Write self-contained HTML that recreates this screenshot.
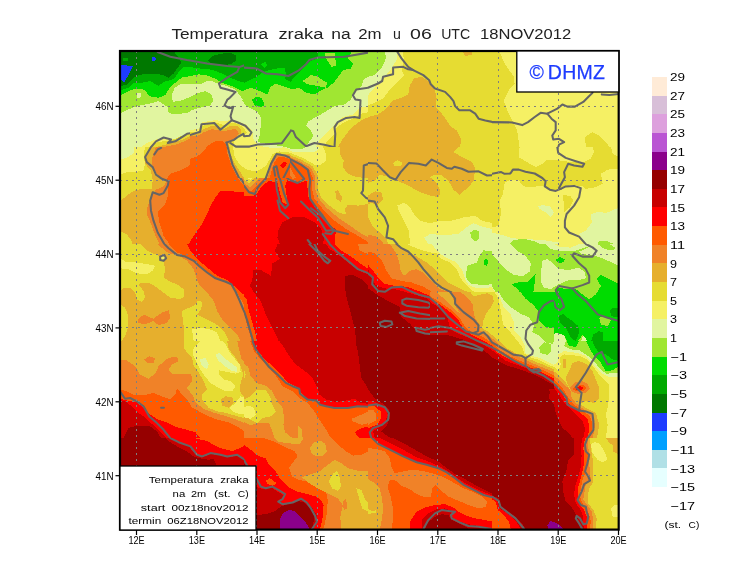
<!DOCTYPE html>
<html><head><meta charset="utf-8"><title>Temperatura zraka na 2m</title>
<style>html,body{margin:0;padding:0;background:#fff}body{width:740px;height:582px;overflow:hidden}</style></head>
<body>
<svg width="740" height="582" viewBox="0 0 740 582" style="display:block">
<rect width="740" height="582" fill="#fff"/>
<defs><clipPath id="mapclip"><rect x="120" y="51" width="498.5" height="478.5"/></clipPath>
<clipPath id="cA1"><rect x="120" y="50" width="124" height="97"/></clipPath>
<clipPath id="cA2"><rect x="244" y="50" width="124" height="97"/></clipPath>
<clipPath id="cA3"><rect x="368" y="50" width="124" height="97"/></clipPath>
<clipPath id="cA4"><rect x="492" y="50" width="128" height="97"/></clipPath>
<clipPath id="cB1"><rect x="120" y="147" width="124" height="97"/></clipPath>
<clipPath id="cB2"><rect x="244" y="147" width="124" height="97"/></clipPath>
<clipPath id="cB3"><rect x="368" y="147" width="124" height="97"/></clipPath>
<clipPath id="cB4"><rect x="492" y="147" width="128" height="97"/></clipPath>
<clipPath id="cC1"><rect x="120" y="244" width="124" height="97"/></clipPath>
<clipPath id="cC2"><rect x="244" y="244" width="124" height="97"/></clipPath>
<clipPath id="cC3"><rect x="368" y="244" width="124" height="97"/></clipPath>
<clipPath id="cC4"><rect x="492" y="244" width="128" height="97"/></clipPath>
<clipPath id="cD1"><rect x="120" y="341" width="124" height="97"/></clipPath>
<clipPath id="cD2"><rect x="244" y="341" width="124" height="97"/></clipPath>
<clipPath id="cD3"><rect x="368" y="341" width="124" height="97"/></clipPath>
<clipPath id="cD4"><rect x="492" y="341" width="128" height="97"/></clipPath>
<clipPath id="cE1"><rect x="120" y="438" width="124" height="97"/></clipPath>
<clipPath id="cE2"><rect x="244" y="438" width="124" height="97"/></clipPath>
<clipPath id="cE3"><rect x="368" y="438" width="124" height="97"/></clipPath>
<clipPath id="cE4"><rect x="492" y="438" width="128" height="97"/></clipPath>
<clipPath id="cP1"><rect x="190" y="100" width="100" height="78"/></clipPath>
<clipPath id="cP2"><rect x="430" y="292" width="124" height="97"/></clipPath>
</defs>
<g clip-path="url(#mapclip)" shape-rendering="crispEdges">
<rect x="120" y="51" width="499" height="479" fill="#e6dc32"/>
<g clip-path="url(#cA1)">
<rect x="120" y="50" width="128" height="97" fill="#e1f5a0"/>
<polygon points="120.0,50.0 120.0,112.8 121.3,112.8 128.4,109.5 136.8,106.1 150.2,103.6 158.5,101.1 167.8,107.0 168.6,112.8 175.3,114.5 187.0,112.8 198.8,109.5 208.8,105.3 213.8,101.1 211.3,94.4 205.5,91.1 198.8,92.7 190.4,96.9 182.0,100.3 172.8,101.9 171.9,95.2 174.5,87.7 182.0,83.5 190.4,84.3 200.4,84.3 205.5,81.5 211.3,80.7 218.9,84.0 227.2,86.0 235.6,89.9 240.6,96.1 244.8,102.8 244.8,50.0" fill="#a0e632"/>
<polygon points="136.8,92.7 140.9,93.2 140.4,97.8 137.6,98.6" fill="#e1f5a0"/>
<polygon points="120.0,50.0 120.0,95.2 121.3,95.2 126.7,91.9 133.4,89.4 140.1,88.5 145.1,90.2 149.3,96.1 158.5,97.8 165.2,95.2 168.6,89.4 175.3,82.7 182.0,77.6 190.4,76.0 198.8,74.3 207.1,75.5 215.5,78.8 222.2,83.0 232.3,86.4 239.0,89.7 244.8,91.9 244.8,50.0" fill="#00dc00"/>
<polygon points="120.0,50.0 120.0,90.2 121.3,90.2 128.4,87.7 133.4,83.5 141.8,82.7 150.2,81.0 158.5,86.0 163.6,81.8 170.3,80.2 175.3,77.6 178.6,71.8 183.7,66.8 188.7,66.8 198.8,68.4 208.8,69.3 215.5,70.9 223.9,74.3 232.3,78.5 240.6,81.8 244.8,82.7 244.8,50.0" fill="#00aa00"/>
<polygon points="120.0,50.0 120.0,86.0 121.3,86.0 127.5,84.3 132.6,78.5 138.4,75.1 146.8,73.5 156.0,73.5 162.7,75.1 168.6,77.6 173.6,73.5 177.8,67.6 181.2,62.6 178.6,57.5 175.3,54.2 173.6,50.0" fill="#007800"/>
<polygon points="208.0,60.9 213.0,55.9 220.5,53.7 230.6,53.0 236.5,55.9 235.6,60.9 230.6,64.2 220.5,65.4 213.8,64.7" fill="#007800"/>
<polygon points="121.3,65.1 133.1,65.9 130.1,71.8 124.2,82.7 121.3,80.2" fill="#1e3cff"/>
<polygon points="151.5,57.5 155.2,57.0 156.0,60.1 152.7,61.4" fill="#1e3cff"/>
<polygon points="122.5,57.5 127.5,57.5 127.5,60.9 122.5,60.9" fill="#00aa00"/>
<polygon points="140.9,147.2 146.8,143.0 158.5,138.5 175.3,139.6 187.0,133.8 193.7,130.4 198.8,123.7 203.8,121.2 213.8,120.4 223.9,120.4 233.9,122.1 244.8,123.7 244.8,147.2" fill="#f5f064"/>
<polygon points="148.5,147.2 158.5,141.8 170.3,140.7 178.6,137.3 190.4,132.3 198.8,128.1 203.8,124.2 213.8,123.2 220.5,125.4 228.9,124.6 237.3,123.7 244.8,125.4 244.8,147.2" fill="#e6dc32"/>
<polygon points="156.0,147.2 170.3,143.2 182.0,139.8 190.4,135.6 198.8,130.6 205.5,126.4 213.8,127.2 222.2,128.8 230.6,125.4 244.8,127.1 244.8,147.2" fill="#e6af2d"/>
<polygon points="161.9,147.2 175.3,144.8 183.7,141.5 190.4,138.1 198.8,133.1 205.5,128.9 213.8,129.8 222.2,130.6 237.3,128.9 244.8,130.4 244.8,147.2" fill="#f08228"/>
<polygon points="211.3,147.2 216.3,142.2 220.5,141.3 227.2,143.8 229.8,147.2" fill="#ff5a00"/>
<g stroke="#656565" stroke-width="2.05" fill="none" stroke-linejoin="round" stroke-linecap="round" shape-rendering="auto">
<polyline points="157.7,52.0 170.3,56.7 187.0,60.1 207.1,63.4 227.2,65.9 239.3,67.1 244.8,65.1"/>
<polyline points="239.3,67.1 237.3,71.8 227.2,77.6 218.9,83.5 220.5,87.7 227.2,89.4 235.6,91.9 229.8,97.8 227.2,99.9 225.6,103.6 227.2,107.0 233.9,107.0 231.4,115.3 232.3,120.4 237.3,122.1 244.8,124.6"/>
<polyline points="151.0,147.2 156.0,141.3 163.6,137.5 171.1,139.6 167.8,143.0 175.3,141.3 187.0,133.8 198.8,132.1 202.1,123.7 213.8,122.1 220.5,128.8 228.9,122.1 237.3,122.1"/>
<polyline points="237.3,122.1 242.3,128.8 244.8,130.4"/>
</g>
</g>
<g clip-path="url(#cA2)">
<rect x="244" y="50" width="128" height="97" fill="#a0e632"/>
<polygon points="244.0,50.0 244.0,90.2 250.7,87.7 257.4,90.2 267.5,94.4 270.0,87.7 275.0,83.5 282.5,86.0 292.6,89.4 299.3,87.7 306.0,92.7 314.4,94.4 322.8,89.4 327.8,87.7 334.5,81.8 339.5,75.1 342.9,70.1 351.2,68.4 352.9,63.4 347.9,58.4 351.2,53.4 351.2,50.0" fill="#00dc00"/>
<polygon points="302.6,81.0 311.0,75.1 317.7,76.8 326.9,82.7 326.1,87.7 317.7,86.0 307.7,84.3" fill="#a0e632"/>
<polygon points="324.4,52.5 334.5,53.0 336.5,65.9 331.5,66.8 326.9,60.1" fill="#a0e632"/>
<polygon points="251.5,100.3 255.7,96.9 261.6,97.8 264.9,105.3 260.8,107.8 253.2,106.1" fill="#00dc00"/>
<polygon points="244.0,50.0 244.0,83.5 249.0,80.2 255.7,77.6 262.4,72.6 269.1,70.1 277.5,68.4 285.1,68.4 285.9,75.1 285.1,79.3 290.9,81.8 294.3,76.8 301.0,70.1 306.0,65.1 311.0,60.9 317.7,58.4 318.6,50.0" fill="#00aa00"/>
<polygon points="260.8,64.2 264.9,61.7 267.8,65.1 264.9,68.1" fill="#00dc00"/>
<polygon points="244.0,103.6 248.2,105.3 254.1,108.6 259.1,117.0 260.8,128.8 259.9,143.8 259.1,147.2 244.0,147.2" fill="#e1f5a0"/>
<polygon points="244.0,127.9 250.7,132.1 252.4,138.8 254.1,147.2 244.0,147.2" fill="#f5f064"/>
<polygon points="306.0,125.4 308.5,121.2 317.7,116.2 327.8,110.3 334.5,106.1 344.5,104.5 351.2,99.4 353.8,91.9 361.3,86.9 363.8,79.3 368.8,76.8 368.8,147.2 306.0,147.2 309.3,141.3 313.5,136.3 311.0,130.4" fill="#e1f5a0"/>
<polygon points="316.1,147.2 318.6,141.3 326.1,133.8 331.1,128.8 335.3,123.7 342.9,117.0 352.9,114.5 359.6,107.8 368.8,106.1 368.8,147.2" fill="#f5f064"/>
<polygon points="322.8,147.2 327.8,140.5 334.5,133.8 337.0,127.1 344.5,122.1 352.9,118.7 361.3,113.7 368.8,112.0 368.8,147.2" fill="#e6dc32"/>
<polygon points="337.8,147.2 342.9,138.8 347.9,132.1 354.6,125.4 361.3,120.4 368.8,117.0 368.8,147.2" fill="#e6af2d"/>
<g stroke="#656565" stroke-width="2.05" fill="none" stroke-linejoin="round" stroke-linecap="round" shape-rendering="auto">
<polyline points="244.0,67.6 256.6,68.4 265.8,73.5 277.5,74.3 288.4,76.0 299.3,70.1 306.0,64.2 309.3,60.1 317.7,57.5 344.5,56.7 368.8,52.5"/>
<polyline points="244.0,146.3 260.8,145.5 280.9,143.0 287.6,135.5 290.9,130.4 293.4,131.3 295.9,137.1 306.0,146.3 314.4,143.0 324.4,144.7 334.5,147.2"/>
<polyline points="334.5,147.2 335.3,133.8 334.5,127.1 337.8,122.1 346.2,117.9 354.6,117.0 359.6,117.9 360.5,100.3 355.4,99.4 352.9,95.2 356.3,89.4 368.8,87.7"/>
<polyline points="244.0,123.7 249.0,128.8 250.7,133.8 247.4,137.1 244.0,136.3"/>
</g>
</g>
<g clip-path="url(#cA3)">
<rect x="368" y="50" width="128" height="97" fill="#e6dc32"/>
<polygon points="368.0,50.0 402.3,50.0 404.0,60.1 401.5,70.1 404.0,75.1 399.8,80.2 393.1,86.0 388.1,91.9 383.1,98.6 374.7,102.8 368.0,105.3" fill="#f5f064"/>
<polygon points="368.0,50.0 397.3,50.0 396.5,60.1 391.5,68.4 384.8,76.8 378.1,83.5 368.0,95.2" fill="#e1f5a0"/>
<polygon points="368.0,50.0 383.9,50.0 386.4,57.5 381.4,68.4 374.7,75.1 368.0,76.8" fill="#a0e632"/>
<polygon points="368.0,117.0 378.1,114.5 386.4,108.6 393.1,100.3 401.5,97.8 408.2,94.4 409.9,85.2 414.1,78.5 421.6,76.8 428.3,81.0 435.0,90.2 436.7,98.6 435.9,107.0 441.7,113.7 446.8,120.4 450.1,126.2 456.8,130.4 461.0,138.8 460.2,147.2 368.0,147.2" fill="#e6af2d"/>
<polygon points="461.8,50.0 472.7,50.0 471.9,55.0 465.2,55.9" fill="#e6af2d"/>
<g stroke="#656565" stroke-width="2.05" fill="none" stroke-linejoin="round" stroke-linecap="round" shape-rendering="auto">
<polyline points="397.3,51.7 401.5,58.4 408.2,66.8 413.2,70.1 423.3,75.1 429.2,80.2 430.8,84.3 435.0,88.5 445.1,91.9 450.1,96.9 453.5,101.1 455.1,106.1 459.3,110.3 470.2,110.3 475.2,113.7 478.6,118.7 485.3,120.4 492.8,122.1"/>
<polyline points="368.0,87.7 378.1,83.5 382.2,81.0 383.1,76.8 393.1,74.3 393.1,67.6 403.2,66.8 408.2,69.3 413.2,70.1"/>
</g>
</g>
<g clip-path="url(#cA4)">
<rect x="492" y="50" width="128" height="97" fill="#f5f064"/>
<polygon points="492.0,50.0 498.7,50.0 504.6,63.4 513.8,76.8 514.6,83.5 508.8,90.2 503.7,100.3 507.9,112.0 512.9,122.1 517.1,130.4 519.6,147.2 492.0,147.2" fill="#e6dc32"/>
<polygon points="585.0,137.1 592.5,132.1 599.2,135.5 607.6,143.8 609.3,147.2 585.8,147.2" fill="#e6dc32"/>
<g stroke="#656565" stroke-width="2.05" fill="none" stroke-linejoin="round" stroke-linecap="round" shape-rendering="auto">
<polyline points="492.0,122.1 512.1,122.4 522.2,125.1 528.0,122.1 534.7,117.0 540.6,112.8 547.3,113.7 557.3,108.6 562.4,104.5 567.4,106.6 574.9,106.6 583.3,101.9 589.2,96.1 592.5,92.7"/>
<polyline points="601.8,94.4 609.3,94.9 619.3,93.9"/>
<polyline points="547.3,113.7 551.5,118.7 555.7,122.1 555.7,130.4 552.3,135.5 553.2,139.6 559.0,138.8 564.1,142.2 559.0,144.7 558.2,147.2"/>
</g>
</g>
<g clip-path="url(#cB1)">
<rect x="120" y="147" width="128" height="97" fill="#ff5a00"/>
<polygon points="244.8,192.2 220.5,190.6 215.5,197.3 210.5,205.6 207.1,214.0 202.1,224.1 193.7,235.8 188.7,244.2 244.8,244.2" fill="#ff0000"/>
<polygon points="120.0,147.0 208.8,147.0 203.8,150.4 198.8,156.2 193.7,161.2 187.0,167.1 180.3,170.5 170.3,173.8 166.9,178.8 168.6,183.9 167.8,195.6 165.2,204.0 157.7,211.5 159.4,222.4 163.6,235.8 169.4,244.2 120.0,244.2" fill="#f08228"/>
<polygon points="120.0,147.0 156.0,147.0 152.7,155.4 151.8,163.8 156.0,172.1 161.9,178.0 166.9,180.5 163.6,186.4 156.0,189.7 152.7,193.9 151.8,197.3 147.6,205.6 146.8,214.0 151.8,225.8 156.0,237.5 159.4,244.2 120.0,244.2" fill="#e6af2d"/>
<polygon points="120.0,147.0 151.0,147.0 146.8,153.7 145.1,163.8 151.0,170.5 152.7,180.5 151.8,188.9 141.8,188.9 133.4,190.9 125.9,196.4 120.0,201.5" fill="#e6dc32"/>
<polygon points="120.0,230.8 126.7,234.1 131.7,240.8 132.6,244.2 120.0,244.2" fill="#e6dc32"/>
<polygon points="120.0,147.0 145.1,147.0 143.5,155.4 145.1,163.8 143.5,170.5 135.1,172.1 126.7,172.1 120.0,174.6" fill="#f5f064"/>
<polygon points="120.0,147.0 134.2,147.0 133.4,153.7 126.7,157.9 120.0,159.6" fill="#e1f5a0"/>
<polygon points="224.7,147.0 227.2,158.7 230.6,168.8 237.3,178.0 244.8,186.4 244.8,147.0" fill="#f08228"/>
<polygon points="228.9,147.0 231.4,158.7 234.8,167.1 240.6,176.3 244.8,180.5 244.8,147.0" fill="#e6af2d"/>
<polygon points="233.1,147.0 235.6,157.1 239.0,165.4 244.8,173.8 244.8,147.0" fill="#e6dc32"/>
<polygon points="237.3,147.0 239.0,153.7 244.8,163.8 244.8,147.0" fill="#f5f064"/>
<g stroke="#656565" stroke-width="2.05" fill="none" stroke-linejoin="round" stroke-linecap="round" shape-rendering="auto">
<polyline points="151.0,147.0 145.1,157.1 146.8,162.1 152.7,167.1 156.0,174.6 161.9,178.8 168.6,181.3 167.8,185.5 163.6,193.1 159.4,194.8 152.7,192.2 150.2,200.6 151.0,210.7 153.5,220.7 157.7,232.5 164.4,244.2"/>
<polyline points="154.3,154.5 157.7,149.5 161.1,147.8"/>
<polyline points="227.2,147.0 230.6,158.7 233.9,167.9 239.8,177.2 244.8,184.7"/>
</g>
</g>
<g clip-path="url(#cB2)">
<rect x="244" y="147" width="128" height="97" fill="#ff0000"/>
<polygon points="244.0,195.6 252.4,196.4 257.4,193.1 261.6,186.4 269.1,180.5 277.5,183.0 282.5,202.3 287.9,204.8 285.1,185.5 287.6,179.7 299.3,183.0 306.8,180.5 308.5,197.3 316.1,209.0 327.8,222.4 336.2,229.9 335.3,235.8 335.3,244.2 368.8,244.2 368.8,147.0 244.0,147.0" fill="#ff5a00"/>
<polygon points="244.0,186.4 250.7,191.4 255.7,187.2 260.8,181.3 266.6,176.3 271.6,165.4 275.0,157.1 280.9,155.4 289.2,158.7 299.3,163.8 309.3,169.6 312.7,177.2 311.9,188.9 314.4,198.9 322.8,209.0 334.5,220.7 346.2,229.1 357.9,235.8 368.8,242.5 368.8,147.0 244.0,147.0" fill="#f08228"/>
<polygon points="290.1,167.1 295.9,178.0 292.6,178.8 289.2,173.8" fill="#f08228"/>
<polygon points="244.0,183.0 249.9,187.2 254.9,183.0 259.9,177.2 265.8,172.1 270.0,162.1 273.3,155.4 280.0,153.4 290.1,157.1 301.0,162.1 311.0,167.9 315.2,176.3 315.2,188.9 317.7,197.3 326.1,207.3 337.8,217.4 347.9,224.1 359.6,232.5 368.8,237.5 368.8,147.0 244.0,147.0" fill="#e6af2d"/>
<polygon points="244.0,179.7 249.0,183.0 254.1,178.8 259.1,173.8 264.1,168.8 268.3,160.4 271.6,154.0 280.0,151.7 290.9,155.4 302.6,160.4 312.7,166.3 317.7,175.5 317.7,188.9 321.1,197.3 329.5,205.6 339.5,213.2 346.2,214.0 344.5,209.8 347.9,204.8 357.9,205.6 368.8,204.0 368.8,147.0 244.0,147.0" fill="#e6dc32"/>
<polygon points="244.0,176.3 250.7,179.7 256.6,174.6 260.8,168.8 264.9,160.4 269.1,152.9 280.0,149.5 292.6,153.7 304.3,158.7 314.4,164.6 320.2,165.4 326.1,160.4 326.1,153.7 322.8,147.0 244.0,147.0" fill="#f5f064"/>
<polygon points="269.1,147.0 282.5,150.4 299.3,152.4 314.4,152.0 319.4,148.7 319.4,147.0" fill="#e1f5a0"/>
<polygon points="282.5,147.0 292.6,149.0 302.0,149.0 305.7,147.0" fill="#a0e632"/>
<polygon points="340.3,147.0 339.5,153.7 343.7,160.4 342.9,167.1 347.9,173.8 356.3,177.2 368.8,178.0 368.8,147.0" fill="#e6af2d"/>
<polygon points="335.3,191.4 337.8,189.7 342.0,197.3 341.2,202.3 336.2,198.9" fill="#e6af2d"/>
<polygon points="278.3,230.8 282.5,222.4 292.6,217.4 304.3,217.4 314.4,222.4 321.1,229.1 324.4,237.5 322.8,244.2 280.0,244.2 277.5,237.5" fill="#c80000"/>
<g stroke="#656565" stroke-width="2.05" fill="none" stroke-linejoin="round" stroke-linecap="round" shape-rendering="auto">
<polyline points="244.0,185.5 249.0,192.2 254.9,193.9 257.4,188.1 260.8,183.9 265.8,178.8 267.5,172.1 271.6,163.8 274.2,155.4 277.5,153.7 284.2,156.2 292.6,160.4 301.0,164.6 307.7,169.6 310.2,180.5 309.3,188.9 310.2,198.9 316.1,207.3 322.8,215.7 329.5,225.8 334.5,230.8 347.9,234.1"/>
<polyline points="274.2,167.1 277.5,167.9 280.0,178.8 284.2,193.9 288.4,204.8 285.1,208.2 280.0,202.3 276.7,188.9 275.8,176.3 273.3,171.3 274.2,167.1"/>
<polyline points="290.1,161.2 297.6,170.5 304.3,178.8 297.6,183.0 289.2,179.7 282.5,173.8 286.7,165.4 290.1,161.2"/>
<polyline points="277.5,200.6 280.0,210.7 288.4,218.2"/>
<polyline points="301.0,201.5 309.3,209.8 317.7,217.4 326.1,230.8 334.5,229.9 331.1,234.1 325.3,233.3"/>
<polyline points="311.0,208.2 321.1,215.7 331.1,227.4"/>
<polyline points="368.8,163.8 363.8,165.4 363.0,190.6 361.3,193.1 366.3,198.1 368.8,198.9"/>
<polyline points="307.7,240.0 311.0,244.2"/>
<polyline points="322.8,234.1 329.5,243.3"/>
</g>
</g>
<g clip-path="url(#cB3)">
<rect x="368" y="147" width="128" height="97" fill="#e6dc32"/>
<polygon points="368.0,147.0 458.5,147.0 453.5,152.0 461.8,157.1 471.9,162.1 475.2,168.8 473.6,180.5 468.5,187.2 459.3,194.8 453.5,189.7 448.4,180.5 441.7,175.5 435.0,174.6 430.0,177.2 436.7,183.0 440.1,190.6 439.2,197.3 430.0,195.6 418.3,191.4 408.2,185.5 396.5,180.5 386.4,176.3 379.7,174.6 374.7,180.5 368.0,183.0" fill="#e6af2d"/>
<polygon points="393.1,162.9 397.3,160.1 401.5,162.1 401.5,165.4 394.8,166.3" fill="#e6dc32"/>
<polygon points="368.0,195.6 374.7,191.4 381.4,192.2 383.1,198.9 378.1,204.8 371.4,203.1 368.0,204.0" fill="#e6af2d"/>
<polygon points="368.0,217.4 372.2,225.8 379.7,232.5 386.4,238.3 388.1,244.2 368.0,244.2" fill="#e6af2d"/>
<polygon points="368.0,235.0 374.7,235.8 381.4,240.8 383.9,244.2 368.0,244.2" fill="#f08228"/>
<polygon points="397.3,205.6 404.0,202.3 409.9,207.3 414.9,215.7 419.9,220.7 430.0,223.2 440.1,220.7 451.8,220.7 463.5,217.4 475.2,215.7 481.9,220.7 492.8,223.2 492.8,244.2 409.9,244.2 409.1,230.8 403.2,219.1 399.0,211.5" fill="#f5f064"/>
<polygon points="424.1,237.5 430.0,234.1 443.4,235.0 458.5,234.1 466.0,227.4 473.6,223.2 481.9,226.6 492.8,229.1 492.8,244.2 428.3,244.2" fill="#e1f5a0"/>
<polygon points="470.2,232.5 474.4,229.9 478.6,230.8 478.6,239.2 475.2,241.7 471.0,237.5" fill="#a0e632"/>
<g stroke="#656565" stroke-width="2.05" fill="none" stroke-linejoin="round" stroke-linecap="round" shape-rendering="auto">
<polyline points="368.0,162.9 376.4,163.4 383.1,170.5 389.8,177.2 395.6,179.7 400.7,172.1 409.1,162.9 418.3,163.8 425.8,165.4 431.7,159.6 438.4,162.9 446.8,167.9 451.8,168.8 454.3,166.8 461.8,168.8 468.5,171.8 478.6,171.3 487.0,175.5 492.8,175.2"/>
<polyline points="368.0,200.6 374.7,201.5 378.1,209.0 384.8,217.4 388.1,225.8 386.4,237.5 393.1,239.2 397.3,244.2"/>
</g>
</g>
<g clip-path="url(#cB4)">
<rect x="492" y="147" width="128" height="97" fill="#f5f064"/>
<polygon points="492.0,147.0 519.6,147.0 518.8,157.1 525.5,161.2 535.6,167.1 542.3,163.8 547.3,159.6 559.0,160.4 570.8,162.1 582.5,162.9 590.9,158.7 594.2,152.0 592.5,147.0 611.0,147.0 612.6,153.7 619.3,157.1 619.3,168.8 607.6,169.6 600.9,173.8 602.6,183.9 595.9,187.2 585.8,188.9 582.5,186.4 572.4,184.7 562.4,187.2 555.7,191.4 547.3,188.9 542.3,185.5 532.2,187.2 523.8,186.4 518.8,180.5 510.4,179.7 504.6,183.0 502.9,193.9 499.5,200.6 501.2,212.3 498.7,225.8 492.0,227.4" fill="#e6dc32"/>
<polygon points="563.2,194.8 570.8,196.4 573.3,200.6 569.9,207.3 564.1,212.3" fill="#e6dc32"/>
<polygon points="590.9,214.0 599.2,211.5 605.9,213.2 619.3,207.3 619.3,244.2 585.8,244.2 579.1,234.1 585.8,230.8 591.7,222.4" fill="#e1f5a0"/>
<polygon points="492.0,232.5 502.1,235.0 512.1,238.3 542.3,240.0 559.0,242.5 559.0,244.2 492.0,244.2" fill="#e1f5a0"/>
<polygon points="538.1,206.5 542.3,204.8 549.8,206.5 554.0,212.3 550.6,217.4 545.6,212.3 539.8,209.0" fill="#e1f5a0"/>
<polygon points="509.6,244.2 513.8,240.0 523.8,238.8 535.6,241.7 540.6,244.2" fill="#a0e632"/>
<polygon points="597.6,244.2 599.2,241.2 605.9,240.8 612.6,243.3 614.3,244.2" fill="#a0e632"/>
<g stroke="#656565" stroke-width="2.05" fill="none" stroke-linejoin="round" stroke-linecap="round" shape-rendering="auto">
<polyline points="492.0,173.8 501.2,172.1 504.6,173.8 510.4,173.5 512.9,169.6 518.8,169.6 525.5,171.8 534.7,173.5 542.3,178.0 545.6,181.3 544.8,186.4 549.8,189.7 555.7,190.9 560.7,188.9"/>
<polyline points="559.0,188.1 564.9,177.2 564.1,172.1 568.2,163.8 574.1,165.4 582.5,166.8 584.2,163.8 575.8,161.2 565.7,157.9 558.2,152.9 557.3,147.0"/>
<polyline points="560.7,188.9 565.7,186.4 574.1,185.9 580.8,188.1 579.1,197.3 574.1,205.6 566.6,214.0 564.9,220.7 564.9,227.4 569.1,232.5 579.1,236.6 585.8,244.2"/>
</g>
</g>
<g clip-path="url(#cC1)">
<rect x="120" y="244" width="128" height="97" fill="#e6af2d"/>
<polygon points="156.9,244.0 168.6,253.2 178.6,255.7 187.0,260.8 193.7,269.1 196.2,277.5 198.8,284.2 207.1,292.6 213.8,301.0 217.2,311.0 222.2,319.4 230.6,327.8 237.3,334.5 240.6,341.2 244.8,341.2 244.8,244.0" fill="#f08228"/>
<polygon points="168.6,244.0 177.0,252.4 187.0,256.6 195.4,262.4 203.8,270.8 213.8,277.5 227.2,281.7 233.9,287.6 239.0,295.9 244.8,306.0 244.8,244.0" fill="#ff5a00"/>
<polygon points="187.0,244.0 190.4,250.7 197.1,259.1 207.1,267.5 217.2,275.8 227.2,280.0 233.9,285.9 240.6,292.6 244.8,295.1 244.8,244.0" fill="#ff0000"/>
<polygon points="137.6,319.4 144.3,314.4 150.2,317.7 153.5,318.6 161.9,312.7 168.6,310.2 170.3,317.7 166.9,322.8 158.5,325.3 153.5,321.1 145.1,324.4 138.4,322.8" fill="#f08228"/>
<polygon points="120.0,244.0 140.1,244.0 146.8,250.7 158.5,255.7 163.6,262.4 165.2,269.1 163.6,277.5 170.3,281.7 177.0,284.2 183.7,289.2 184.5,295.9 180.3,299.3 170.3,297.6 163.6,292.6 156.9,287.6 150.2,283.4 143.5,282.5 138.4,284.2 143.5,290.9 145.1,297.6 141.8,301.8 136.8,299.3 135.1,292.6 130.1,287.6 123.4,288.4 120.0,290.9" fill="#e6dc32"/>
<polygon points="182.0,311.0 187.0,308.5 193.7,306.0 197.9,301.0 202.1,301.8 201.3,309.3 197.1,314.4 203.8,317.7 210.5,321.1 218.9,326.1 223.9,331.1 228.9,341.2 183.7,341.2 184.5,331.1 182.8,321.1" fill="#e6dc32"/>
<polygon points="120.0,304.3 125.0,307.7 128.4,316.1 128.4,326.1 125.9,334.5 121.7,341.2 120.0,341.2" fill="#e6dc32"/>
<polygon points="120.0,258.2 126.7,262.4 136.8,262.4 146.8,264.1 155.2,265.8 152.7,270.8 146.8,274.2 136.8,273.3 128.4,269.1 120.0,268.3" fill="#f5f064"/>
<polygon points="192.1,329.5 200.4,327.8 210.5,329.5 217.2,332.8 220.5,341.2 193.7,341.2" fill="#f5f064"/>
<polygon points="160.2,256.6 164.4,255.7 165.2,259.9 161.9,260.8" fill="#f5f064"/>
<g stroke="#656565" stroke-width="2.05" fill="none" stroke-linejoin="round" stroke-linecap="round" shape-rendering="auto">
<polyline points="164.4,244.0 168.6,248.2 177.0,254.9 185.3,256.6 193.7,260.8 198.8,265.8 207.1,272.5 215.5,278.3 225.6,281.7 231.4,284.2 235.6,291.8 239.8,301.0 243.2,309.3 244.8,312.7"/>
<polyline points="160.2,256.6 164.4,254.9 166.1,258.2 163.6,260.8 160.2,259.9 160.2,256.6"/>
</g>
</g>
<g clip-path="url(#cC2)">
<rect x="244" y="244" width="128" height="97" fill="#c80000"/>
<polygon points="244.0,244.0 277.5,244.0 275.0,250.7 280.0,259.1 272.5,263.3 270.8,275.8 260.8,270.0 253.2,270.0 252.4,279.2 249.9,285.9 254.1,292.6 260.8,301.0 265.8,314.4 272.5,327.8 277.5,337.8 278.3,341.2 244.0,341.2" fill="#ff0000"/>
<polygon points="326.1,244.0 329.5,249.0 337.8,254.1 347.9,262.4 357.9,270.0 368.8,275.0 368.8,244.0" fill="#ff0000"/>
<polygon points="334.5,244.0 341.2,250.7 351.2,256.6 361.3,264.1 368.8,269.1 368.8,244.0" fill="#ff5a00"/>
<polygon points="357.9,244.0 359.6,250.7 368.8,254.1 368.8,244.0" fill="#f08228"/>
<polygon points="244.0,295.9 246.5,299.3 249.0,311.0 252.4,322.8 255.7,334.5 256.6,341.2 244.0,341.2" fill="#ff5a00"/>
<polygon points="244.0,311.0 246.5,322.8 249.9,334.5 251.5,341.2 244.0,341.2" fill="#f08228"/>
<polygon points="345.4,275.8 352.9,275.0 361.3,279.2 368.8,285.9 368.8,341.2 356.3,341.2 354.6,327.8 351.2,314.4 347.0,299.3 344.5,285.9" fill="#960000"/>
<g stroke="#656565" stroke-width="2.05" fill="none" stroke-linejoin="round" stroke-linecap="round" shape-rendering="auto">
<polyline points="309.3,244.0 317.7,252.4 324.4,260.8 327.8,263.3 330.3,260.8 324.4,256.6 317.7,250.7 314.4,244.0"/>
<polyline points="329.5,244.0 337.8,252.4 347.9,260.8 357.9,269.1 368.8,273.3"/>
<polyline points="244.0,311.0 247.4,321.1 250.7,332.8 253.2,341.2"/>
</g>
</g>
<g clip-path="url(#cC3)">
<rect x="368" y="244" width="128" height="97" fill="#960000"/>
<polygon points="368.0,288.4 378.1,295.3 389.8,302.0 399.8,307.0 401.5,317.1 409.9,323.8 416.6,331.3 430.0,334.7 443.4,335.3 455.1,337.8 461.8,341.2 492.8,341.2 492.8,244.0 368.0,244.0" fill="#c80000"/>
<polygon points="368.0,269.1 371.4,277.5 375.5,285.1 384.8,288.4 394.8,289.2 404.9,291.8 416.6,295.1 426.6,298.5 435.0,304.3 441.7,310.2 448.4,316.1 455.1,321.1 461.8,326.1 465.2,332.8 471.9,338.7 476.9,341.2 492.8,341.2 492.8,244.0 368.0,244.0" fill="#ff0000"/>
<polygon points="368.0,264.9 373.0,270.8 378.1,277.5 384.8,283.9 394.8,285.9 406.5,286.7 418.3,290.9 430.0,295.9 438.4,301.8 445.1,308.5 453.5,314.4 461.8,320.2 466.9,326.1 475.2,332.8 483.6,337.8 487.0,341.2 492.8,341.2 492.8,244.0 368.0,244.0" fill="#ff5a00"/>
<polygon points="368.0,251.5 374.7,253.2 382.2,260.8 386.4,270.8 391.5,278.3 401.5,280.9 411.6,282.5 423.3,286.7 433.3,292.6 440.1,299.3 446.8,306.0 456.8,311.0 466.9,316.1 473.6,322.8 478.6,329.5 488.6,335.3 492.8,337.8 492.8,244.0 368.0,244.0" fill="#f08228"/>
<polygon points="389.8,244.0 395.6,252.4 399.0,260.8 400.7,270.8 404.0,275.8 409.9,270.8 416.6,269.1 423.3,272.5 430.0,280.0 436.7,286.7 441.7,290.1 450.1,291.4 460.2,291.9 468.5,293.1 471.9,297.6 472.7,311.0 470.2,317.7 476.9,324.4 483.6,331.1 492.8,333.6 492.8,244.0" fill="#e6af2d"/>
<polygon points="395.6,244.0 401.5,249.0 409.9,252.4 418.3,257.4 426.6,262.4 435.0,269.1 441.7,275.8 448.4,282.5 456.8,286.7 465.2,290.9 473.6,294.3 481.9,297.6 492.8,299.3 492.8,244.0" fill="#e6dc32"/>
<polygon points="492.8,302.6 487.8,306.8 483.6,314.4 483.6,324.4 480.6,329.5 487.3,334.5 492.8,337.8" fill="#e6dc32"/>
<polygon points="406.5,244.0 418.3,249.0 430.0,252.4 436.7,253.2 441.7,259.1 450.1,262.4 456.8,269.1 460.2,277.5 465.2,284.2 471.9,290.9 481.9,294.3 492.8,295.1 492.8,244.0" fill="#f5f064"/>
<polygon points="431.7,244.0 438.4,252.4 446.8,258.2 455.1,261.6 461.8,269.1 465.2,279.2 468.5,285.1 476.9,288.4 485.3,288.4 492.8,286.7 492.8,244.0" fill="#e1f5a0"/>
<polygon points="466.9,265.8 476.9,262.4 480.3,254.1 483.6,250.4 492.8,251.5 492.8,284.2 481.9,285.1 470.2,283.4 466.0,277.5" fill="#a0e632"/>
<polygon points="484.1,260.8 486.1,258.2 487.8,260.8 487.3,265.8 484.5,264.9" fill="#00dc00"/>
<g stroke="#656565" stroke-width="2.05" fill="none" stroke-linejoin="round" stroke-linecap="round" shape-rendering="auto">
<polyline points="396.5,244.0 401.5,248.2 408.2,251.5 413.2,256.6 418.3,262.4 423.3,269.1 429.2,275.8 435.0,282.5 441.7,287.6 451.8,292.6 455.1,297.6 455.1,304.3 460.2,310.2 466.9,315.2 475.2,321.1 478.6,326.1 476.9,330.3 470.2,332.0 465.2,330.3"/>
<polyline points="368.0,273.3 373.0,277.5 372.2,284.2 378.1,290.9 384.8,291.8 391.5,287.6 401.5,286.7 409.9,290.9 419.9,295.1 430.0,297.6 438.4,302.6 443.4,309.3 451.8,314.4 461.8,321.1 468.5,327.8 475.2,334.5 485.3,333.6 490.3,337.8 492.8,341.2"/>
<polyline points="402.3,300.1 406.5,298.5 418.3,300.1 428.3,302.6 431.3,305.2 428.3,307.7 418.3,307.3 406.5,305.7 402.3,303.5 402.3,300.1"/>
<polyline points="399.8,312.7 408.2,311.0 419.9,313.5 435.0,316.1 444.2,316.9 444.2,319.4 431.7,319.1 416.6,318.6 404.9,316.1 399.8,312.7"/>
<polyline points="379.7,322.8 384.8,320.7 391.5,321.4 392.3,324.4 386.4,326.9 380.6,326.1 379.7,322.8"/>
<polyline points="415.8,327.8 425.0,329.8 435.0,327.8 440.1,324.4 448.4,325.3 456.8,329.5 465.2,332.0 471.9,334.5"/>
<polyline points="415.8,327.8 416.6,331.1 425.0,333.6 435.0,334.5 446.8,333.6 450.9,330.3 443.4,329.5 435.0,331.1"/>
</g>
</g>
<g clip-path="url(#cC4)">
<rect x="492" y="244" width="128" height="97" fill="#a0e632"/>
<polygon points="492.0,244.0 510.4,244.0 517.1,250.7 525.5,255.7 530.9,263.3 529.7,271.6 523.0,276.2 513.8,275.0 505.4,269.1 497.9,260.8 492.0,254.1" fill="#e1f5a0"/>
<polygon points="542.3,260.8 547.3,259.1 554.0,264.1 559.0,269.1 569.1,270.0 579.1,267.5 585.0,272.5 585.8,278.3 579.1,280.0 569.1,280.0 559.0,284.2 550.6,289.2 543.9,287.6 540.6,280.9 541.4,269.1" fill="#e1f5a0"/>
<polygon points="545.6,244.0 550.6,249.0 562.4,251.5 575.8,250.7 585.8,247.4 592.5,244.0" fill="#e1f5a0"/>
<polygon points="592.5,244.0 585.8,249.0 579.1,251.5 580.8,253.7 594.2,255.7 604.3,259.1 619.3,265.8 619.3,244.0" fill="#e1f5a0"/>
<polygon points="597.6,244.0 609.3,244.0 615.7,248.2 612.6,250.4 604.3,249.0" fill="#a0e632"/>
<polygon points="554.0,244.0 559.0,246.5 570.8,247.7 579.1,244.0" fill="#f5f064"/>
<polygon points="511.3,284.2 518.8,282.2 528.0,281.7 535.6,274.2 534.7,282.5 533.1,294.3 536.4,301.0 540.6,306.0 537.2,311.0 531.4,307.7 525.5,301.0 521.3,294.3 517.1,288.4" fill="#00dc00"/>
<polygon points="559.0,287.6 565.7,289.2 575.8,289.2 582.5,294.3 589.2,299.3 595.9,294.3 600.9,285.9 596.7,279.2 600.9,275.0 609.3,279.2 619.3,284.2 619.3,341.2 585.8,341.2 582.5,335.3 577.5,341.2 567.4,341.2 564.1,335.3 557.3,332.8 549.0,335.3 542.3,329.5 538.9,321.1 537.2,314.4 540.6,306.8 549.0,301.8 552.3,294.3" fill="#00dc00"/>
<polygon points="555.7,259.9 559.9,257.1 564.9,259.4 563.2,262.4 558.2,262.8" fill="#00dc00"/>
<polygon points="599.2,317.7 605.9,316.1 611.0,320.2 607.6,326.1 600.9,324.4" fill="#a0e632"/>
<polygon points="559.0,316.1 563.2,313.5 567.4,317.7 572.4,321.1 578.3,326.1 579.1,332.8 575.8,341.2 570.8,337.8 565.7,327.8 559.9,322.8" fill="#00aa00"/>
<polygon points="590.9,341.2 593.4,334.5 599.2,331.1 603.4,332.8 602.6,341.2" fill="#00aa00"/>
<polygon points="610.1,311.0 612.6,307.7 619.3,308.5 619.3,317.7 611.0,316.1" fill="#00aa00"/>
<polygon points="492.0,286.7 497.0,294.3 502.1,303.5 513.8,311.0 523.8,314.4 531.4,317.7 533.9,323.6 528.0,327.8 528.9,334.5 533.1,341.2 492.0,341.2" fill="#e1f5a0"/>
<polygon points="545.6,341.2 549.0,335.3 557.3,332.8 564.1,335.3 566.6,341.2" fill="#e1f5a0"/>
<polygon points="580.8,341.2 583.3,335.3 587.5,341.2" fill="#e1f5a0"/>
<polygon points="492.0,287.9 496.2,292.6 500.4,301.0 504.6,311.0 510.4,318.6 513.8,326.1 515.1,334.5 514.6,341.2 492.0,341.2" fill="#f5f064"/>
<polygon points="492.0,293.6 495.7,296.3 498.4,307.7 500.4,319.4 499.7,331.1 500.5,341.2 492.0,341.2" fill="#e6dc32"/>
<polygon points="492.0,293.9 493.3,299.3 492.8,307.0 492.0,307.7" fill="#e6af2d"/>
<g stroke="#656565" stroke-width="2.05" fill="none" stroke-linejoin="round" stroke-linecap="round" shape-rendering="auto">
<polyline points="585.8,244.0 592.5,247.4 596.7,250.7 592.5,256.6 582.5,256.6 574.1,253.2 572.4,255.7 579.1,263.3 585.8,269.1 589.2,275.8 589.2,282.5 582.5,285.1 572.4,288.4 559.0,285.9 555.7,290.1 557.3,294.3 561.5,299.3 564.1,306.8 559.9,310.2 555.7,307.7 554.0,301.8 549.0,301.0 540.6,306.8 537.2,314.4 537.2,321.1 528.0,326.9 526.3,334.5 524.7,341.2"/>
<polyline points="572.4,288.4 577.5,294.3 585.8,301.0 592.5,308.5 597.6,314.4 607.6,317.7 619.3,321.1"/>
</g>
</g>
<g clip-path="url(#cD1)">
<rect x="120" y="341" width="128" height="97" fill="#e6af2d"/>
<polygon points="184.5,341.0 183.7,347.7 187.0,352.7 192.1,357.8 193.7,366.1 198.8,372.8 203.8,381.2 207.1,389.6 202.1,394.6 202.1,399.6 208.8,408.0 217.2,411.4 227.2,413.1 237.3,416.4 244.8,418.1 244.8,341.0" fill="#e6dc32"/>
<polygon points="227.2,341.0 228.9,349.4 235.6,357.8 240.6,366.1 243.2,374.5 240.6,382.9 239.8,391.3 244.8,398.0 244.8,341.0" fill="#e6af2d"/>
<polygon points="220.5,399.6 225.6,396.3 232.3,397.1 233.9,403.0 228.9,408.0 222.2,405.5" fill="#e6af2d"/>
<polygon points="200.4,341.0 193.7,347.7 192.9,354.4 197.1,362.8 200.4,369.5 205.5,377.0 210.5,382.9 217.2,387.1 225.6,391.3 232.3,391.3 235.6,386.2 230.6,381.2 223.9,379.5 218.9,374.5 218.9,370.3 227.2,372.0 235.6,373.7 240.6,372.0 239.8,364.5 233.9,357.8 228.9,351.1 225.6,344.4 222.2,341.0" fill="#f5f064"/>
<polygon points="228.9,408.0 235.6,403.0 240.6,396.3 244.8,398.0 244.8,414.7 235.6,413.1" fill="#f5f064"/>
<polygon points="199.6,359.4 205.5,357.8 208.8,364.5 207.1,369.5 202.1,366.1" fill="#e1f5a0"/>
<polygon points="215.5,355.2 218.9,352.7 223.9,357.8 230.6,362.8 237.3,367.8 237.3,372.0 230.6,370.3 223.9,365.3 218.0,360.3" fill="#e1f5a0"/>
<polygon points="120.0,359.4 126.7,360.3 135.1,366.1 140.1,374.5 148.5,378.7 156.0,372.8 158.5,366.1 164.4,361.1 168.6,357.8 177.0,356.9 178.6,361.1 171.9,364.5 168.6,369.5 171.9,373.7 183.7,374.5 191.2,373.7 192.1,381.2 187.0,387.9 192.1,394.6 196.2,403.0 203.8,408.9 213.8,412.7 223.9,415.6 235.6,419.4 244.8,423.1 244.8,438.2 120.0,438.2" fill="#f08228"/>
<polygon points="144.3,359.4 149.3,356.1 155.2,358.6 153.5,362.8 147.6,362.8" fill="#f08228"/>
<polygon points="237.3,341.0 239.0,349.4 241.5,359.4 244.8,362.8 244.8,341.0" fill="#f08228"/>
<polygon points="120.0,389.6 126.7,391.3 133.4,394.6 143.5,395.5 153.5,392.9 161.9,396.3 170.3,399.6 175.3,394.6 177.0,387.9 182.0,394.6 187.0,399.6 192.1,407.4 203.8,414.1 215.5,419.1 228.9,422.4 239.0,427.5 244.8,431.5 244.8,438.2 120.0,438.2" fill="#ff5a00"/>
<polygon points="120.0,398.8 126.7,400.5 136.8,402.2 143.5,408.0 150.2,414.7 158.5,419.8 168.6,423.1 177.0,427.3 187.0,429.8 195.4,432.3 200.4,438.2 120.0,438.2" fill="#ff0000"/>
<polygon points="120.0,401.3 125.0,401.3 131.7,406.3 138.4,413.1 143.5,416.4 148.5,421.4 155.2,426.5 163.6,434.8 166.1,438.2 120.0,438.2" fill="#c80000"/>
<polygon points="123.4,438.2 128.4,428.1 136.8,425.6 150.2,426.5 156.9,431.5 161.1,438.2" fill="#960000"/>
<g stroke="#656565" stroke-width="2.05" fill="none" stroke-linejoin="round" stroke-linecap="round" shape-rendering="auto">
<polyline points="120.0,391.3 125.0,398.8 130.1,398.0 136.8,401.3 143.5,406.3 149.3,416.4 156.9,423.1 163.6,429.8 170.3,438.2"/>
<polyline points="161.1,407.7 163.9,407.7"/>
</g>
</g>
<g clip-path="url(#cD2)">
<rect x="244" y="341" width="128" height="97" fill="#f08228"/>
<polygon points="244.0,363.6 248.2,367.0 250.7,376.2 256.6,382.9 265.8,385.9 271.6,390.4 277.5,401.3 282.9,408.0 284.2,419.8 283.4,424.8 285.1,432.3 292.6,438.2 274.2,438.2 272.5,431.5 269.1,423.1 259.1,423.1 250.7,425.1 244.0,421.8" fill="#e6af2d"/>
<polygon points="297.6,424.8 301.8,429.8 302.6,438.2 298.5,438.2" fill="#e6af2d"/>
<polygon points="244.0,369.5 245.7,374.5 244.0,379.5" fill="#e6dc32"/>
<polygon points="244.0,399.6 250.7,396.3 256.6,389.6 265.8,390.4 270.0,396.3 271.6,403.0 275.8,411.4 270.8,416.4 262.4,418.1 257.4,423.1 250.7,419.8 244.0,415.6" fill="#e6dc32"/>
<polygon points="244.0,407.2 249.0,405.5 254.1,408.0 255.7,414.7 250.7,418.9 244.0,417.2" fill="#f5f064"/>
<polygon points="249.9,341.0 254.1,351.1 260.8,359.4 269.1,367.8 277.5,377.9 282.5,386.2 292.6,391.3 299.3,398.0 307.7,403.0 314.4,411.4 319.4,419.8 326.1,429.8 331.1,438.2 368.8,438.2 368.8,341.0" fill="#ff5a00"/>
<polygon points="351.2,418.9 361.3,414.7 368.8,411.4 368.8,423.1 361.3,424.8 352.9,421.4" fill="#f08228"/>
<polygon points="252.4,341.0 257.4,350.2 264.1,358.6 272.5,366.1 280.9,374.5 287.6,382.1 297.6,387.1 301.0,392.9 307.7,398.8 316.1,401.3 321.1,405.5 331.1,407.2 344.5,408.0 357.9,407.2 368.8,407.2 368.8,341.0" fill="#ff0000"/>
<polygon points="354.6,432.3 361.3,428.1 368.8,426.5 368.8,438.2 359.6,438.2" fill="#ff0000"/>
<polygon points="279.2,341.0 284.2,347.7 289.2,356.1 295.9,364.5 306.0,372.0 312.7,377.9 317.7,387.9 319.4,394.6 326.1,399.6 336.2,402.2 346.2,400.5 354.6,398.8 361.3,403.0 368.8,403.8 368.8,341.0" fill="#c80000"/>
<polygon points="355.4,341.0 357.9,351.1 359.6,364.5 361.3,377.9 368.8,389.6 368.8,341.0" fill="#960000"/>
<g stroke="#656565" stroke-width="2.05" fill="none" stroke-linejoin="round" stroke-linecap="round" shape-rendering="auto">
<polyline points="252.4,341.0 255.7,349.4 262.4,358.6 269.1,367.0 277.5,374.5 285.9,382.9 292.6,386.2 299.3,388.8 300.1,393.8 307.7,399.6 316.1,400.5 320.2,404.7 326.1,406.3 334.5,408.0 347.9,408.0 357.9,406.3 368.8,406.7"/>
</g>
</g>
<g clip-path="url(#cD3)">
<rect x="368" y="341" width="128" height="97" fill="#960000"/>
<polygon points="368.0,389.6 374.7,398.0 383.1,403.8 388.9,409.7 389.8,418.1 386.4,426.5 381.4,431.5 388.1,436.5 391.5,438.2 368.0,438.2" fill="#c80000"/>
<polygon points="368.0,400.5 376.4,402.7 384.8,407.2 387.8,414.7 384.8,423.1 378.1,428.1 373.0,431.5 374.7,438.2 368.0,438.2" fill="#ff0000"/>
<polygon points="368.0,405.5 374.7,406.3 380.6,411.4 381.4,418.1 377.2,424.8 368.0,428.1" fill="#ff5a00"/>
<polygon points="368.0,409.7 373.9,410.5 376.4,414.7 375.5,420.6 368.0,424.8" fill="#f08228"/>
<polygon points="468.5,341.0 478.6,346.0 485.3,350.2 490.3,357.8 492.8,360.3 492.8,341.0" fill="#c80000"/>
<polygon points="475.2,341.0 485.3,346.0 492.8,352.7 492.8,341.0" fill="#ff0000"/>
<polygon points="485.3,341.0 492.8,345.2 492.8,341.0" fill="#ff5a00"/>
<g stroke="#656565" stroke-width="2.05" fill="none" stroke-linejoin="round" stroke-linecap="round" shape-rendering="auto">
<polyline points="368.0,405.5 376.4,404.3 384.8,407.2 388.9,413.1 388.1,419.8 382.2,424.8 373.0,428.1 369.7,432.3 371.4,438.2"/>
<polyline points="456.8,342.7 463.5,341.0 471.9,343.5 481.9,347.7 481.9,350.2 471.9,347.7 461.8,345.7 456.8,344.4 456.8,342.7"/>
<polyline points="481.9,341.0 492.8,344.4"/>
</g>
</g>
<g clip-path="url(#cD4)">
<rect x="492" y="341" width="128" height="97" fill="#960000"/>
<polygon points="492.0,356.1 498.7,359.4 508.8,363.6 518.8,369.5 530.5,376.2 540.6,381.2 547.3,385.4 549.8,391.3 549.0,398.0 554.0,404.7 555.7,413.1 559.0,421.4 562.4,428.1 569.1,433.2 572.4,438.2 619.3,438.2 619.3,341.0 492.0,341.0" fill="#c80000"/>
<polygon points="492.0,347.7 498.7,353.6 508.8,359.4 520.5,366.1 530.5,372.8 542.3,378.7 552.3,385.4 559.0,394.6 564.1,403.0 570.8,409.7 577.5,416.4 582.5,421.4 585.0,428.1 584.2,434.8 583.3,438.2 619.3,438.2 619.3,341.0 492.0,341.0" fill="#ff0000"/>
<polygon points="492.0,344.4 500.4,351.1 510.4,357.8 522.2,364.5 533.9,371.2 543.9,377.0 554.0,383.7 560.7,391.3 565.7,399.6 572.4,407.2 580.8,413.1 587.5,418.9 589.2,426.5 588.3,434.8 587.5,438.2 619.3,438.2 619.3,341.0 492.0,341.0" fill="#ff5a00"/>
<polygon points="492.0,342.7 502.1,349.4 512.1,356.1 523.8,363.6 533.9,366.1 540.6,369.5 547.3,375.3 555.7,381.2 562.4,387.9 567.4,396.3 574.1,404.7 582.5,410.5 590.0,416.4 592.5,424.8 590.9,434.8 590.0,438.2 619.3,438.2 619.3,341.0 492.0,341.0" fill="#f08228"/>
<polygon points="493.7,341.0 503.7,347.7 513.8,354.4 523.8,361.1 530.5,362.8 540.6,362.8 545.6,369.5 552.3,374.5 559.0,379.5 565.7,386.2 572.4,389.6 570.8,396.3 575.8,403.0 584.2,409.7 592.5,414.7 595.0,424.8 593.4,434.8 592.5,438.2 619.3,438.2 619.3,341.0" fill="#e6af2d"/>
<polygon points="498.7,341.0 508.8,347.7 517.1,352.7 525.5,358.6 532.2,359.4 540.6,357.8 547.3,362.8 554.0,371.2 560.7,377.0 567.4,384.6 570.8,391.3 574.1,398.0 579.1,403.8 587.5,408.9 595.9,413.1 599.2,424.8 597.6,434.8 596.7,438.2 619.3,438.2 619.3,341.0" fill="#e6dc32"/>
<polygon points="567.4,383.7 565.7,377.9 569.1,371.2 572.4,362.8 579.1,361.1 587.5,364.5 592.5,371.2 595.9,379.5 599.2,387.9 599.2,398.0 594.2,403.0 585.8,401.3 579.1,403.8 574.1,398.0 570.8,391.3" fill="#e6af2d"/>
<polygon points="563.2,358.6 565.7,358.6 565.7,367.8 563.2,367.8" fill="#e6af2d"/>
<polygon points="569.9,387.1 575.8,382.1 582.5,381.2 587.5,383.7 590.0,388.8 585.8,392.9 577.5,393.8 571.6,391.3" fill="#f08228"/>
<polygon points="572.4,388.8 577.5,385.4 583.3,384.9 586.7,387.9 583.3,391.3 575.8,391.3" fill="#ff5a00"/>
<polygon points="575.8,387.9 580.0,386.2 583.3,387.9 581.6,390.4 576.6,390.1" fill="#ff0000"/>
<polygon points="507.1,341.0 515.5,346.0 523.8,353.6 532.2,356.9 540.6,355.2 547.3,359.4 554.0,366.1 558.2,371.2 560.7,364.5 559.9,356.9 564.1,354.4 572.4,355.2 580.8,356.1 589.2,361.1 594.2,367.8 599.2,374.5 604.3,379.5 609.3,384.6 609.3,396.3 607.6,408.0 605.9,414.7 607.6,424.8 605.9,438.2 619.3,438.2 619.3,341.0" fill="#f5f064"/>
<polygon points="515.5,341.0 520.5,346.0 525.5,351.1 533.9,355.2 542.3,353.6 549.0,357.8 554.8,364.5 558.2,361.1 558.2,354.4 564.1,351.1 575.8,352.7 584.2,355.2 590.9,361.1 595.9,367.8 600.9,372.8 609.3,377.0 619.3,377.0 619.3,341.0" fill="#e1f5a0"/>
<polygon points="565.7,341.0 564.1,346.0 570.8,349.4 579.1,350.2 585.8,354.4 592.5,359.4 599.2,367.8 605.9,373.7 619.3,372.8 619.3,341.0" fill="#a0e632"/>
<polygon points="540.6,344.4 545.6,341.0 550.6,342.7 551.5,349.4 548.1,354.4 542.3,352.7 538.9,348.5" fill="#a0e632"/>
<polygon points="566.6,341.0 569.1,346.0 575.8,346.9 579.1,341.0" fill="#00dc00"/>
<polygon points="585.8,341.0 589.2,347.7 594.2,356.1 600.9,362.8 605.9,371.2 612.6,370.3 619.3,366.1 619.3,341.0" fill="#00dc00"/>
<polygon points="592.5,341.0 595.0,347.7 599.2,352.7 605.9,354.4 612.6,359.4 619.3,361.1 619.3,341.0" fill="#00aa00"/>
<g stroke="#656565" stroke-width="2.05" fill="none" stroke-linejoin="round" stroke-linecap="round" shape-rendering="auto">
<polyline points="492.0,344.4 502.1,350.2 513.8,355.2 517.1,358.6 525.5,366.1 529.7,371.2 533.9,372.0 540.6,375.3 549.0,380.4 555.7,385.4 562.4,392.9 566.6,398.0 567.4,404.7 574.1,408.0 579.1,410.5"/>
<polyline points="579.1,410.5 585.8,411.4 592.5,413.9 593.4,421.4 593.4,429.8 590.0,434.8 587.5,438.2"/>
<polyline points="524.7,366.1 530.5,367.0 539.8,367.0 540.6,370.3 536.4,372.8 532.2,370.8"/>
<polyline points="525.5,341.0 528.0,344.4 533.1,349.4 531.4,354.4 525.5,358.6 524.7,366.1"/>
<polyline points="579.1,410.5 580.0,403.0 581.6,392.9 575.8,387.1 579.1,382.9 585.8,372.8 592.5,361.1 596.7,354.4 601.8,351.9 604.3,357.8 607.6,364.5 619.3,361.9"/>
</g>
</g>
<g clip-path="url(#cE1)">
<rect x="120" y="438" width="128" height="97" fill="#960000"/>
<polygon points="165.2,438.0 170.3,442.2 178.6,447.2 187.0,451.4 193.7,456.4 202.1,458.9 208.8,459.8 213.8,458.9 216.3,464.8 244.8,464.8 244.8,438.0" fill="#c80000"/>
<polygon points="168.6,438.0 177.0,442.2 188.7,446.4 195.4,453.9 202.1,457.3 210.5,453.9 220.5,455.6 228.9,457.3 237.3,455.6 244.8,460.6 244.8,438.0" fill="#ff0000"/>
<polygon points="193.7,438.0 207.1,441.0 218.9,447.7 232.3,451.1 240.6,447.7 244.8,445.2 244.8,438.0" fill="#ff5a00"/>
<g stroke="#656565" stroke-width="2.05" fill="none" stroke-linejoin="round" stroke-linecap="round" shape-rendering="auto">
<polyline points="170.3,438.0 178.6,442.2 190.4,446.4 197.1,454.8 202.1,456.4 210.5,453.1 220.5,454.8 227.2,456.4 237.3,454.8 244.8,459.8"/>
</g>
</g>
<g clip-path="url(#cE2)">
<rect x="244" y="438" width="128" height="97" fill="#f08228"/>
<polygon points="244.0,438.0 264.1,438.0 272.5,441.0 282.5,446.0 294.3,451.1 297.6,456.1 292.6,462.8 289.2,467.8 291.8,476.2 299.3,479.9 307.7,481.6 317.7,486.6 326.1,491.6 327.8,500.0 326.9,513.4 324.4,525.1 322.8,530.2 244.0,530.2" fill="#ff5a00"/>
<polygon points="331.1,438.0 337.8,444.7 346.2,451.4 352.9,455.6 361.3,454.8 368.8,451.4 368.8,438.0" fill="#ff5a00"/>
<polygon points="244.0,444.7 250.7,449.7 259.1,456.4 265.8,458.1 269.1,464.8 275.8,471.5 280.9,479.9 287.6,486.6 297.6,491.6 307.7,494.1 316.1,496.6 321.1,500.0 323.6,505.0 322.8,516.8 320.2,528.5 319.4,530.2 244.0,530.2" fill="#ff0000"/>
<polygon points="265.8,480.7 270.0,478.2 276.7,483.2 272.5,485.8 267.5,484.1" fill="#ff5a00"/>
<polygon points="244.0,461.5 250.7,471.5 255.7,486.6 262.4,489.1 270.8,487.4 277.5,491.6 284.2,495.8 280.0,500.8 284.2,504.2 292.6,502.5 301.0,499.2 307.7,502.5 312.7,508.4 316.9,515.9 316.1,525.1 312.7,530.2 244.0,530.2" fill="#c80000"/>
<polygon points="244.0,463.1 249.0,474.9 255.7,488.3 255.7,515.1 265.8,514.2 274.2,511.7 280.9,506.7 287.6,504.2 297.6,500.8 304.3,502.5 310.2,508.4 314.4,516.8 312.7,526.8 310.2,530.2 244.0,530.2" fill="#960000"/>
<polygon points="280.0,530.2 280.0,518.4 283.4,512.6 289.2,510.1 294.3,510.9 299.3,515.9 305.2,521.8 308.5,526.8 308.5,530.2" fill="#8b008b"/>
<polygon points="274.2,438.0 277.5,441.4 285.9,443.0 299.3,444.4 302.6,439.7 302.6,438.0" fill="#e6af2d"/>
<polygon points="310.2,447.2 314.4,442.2 320.2,440.5 325.3,443.9 326.9,451.4 322.8,455.6 316.1,456.4 311.0,453.1" fill="#e6af2d"/>
<polygon points="301.8,477.4 311.0,474.0 319.4,471.5 327.8,464.8 334.5,459.8 341.2,463.1 347.9,468.2 357.9,470.7 368.8,471.5 368.8,530.2 341.2,530.2 340.3,516.8 342.9,505.0 337.8,498.3 327.8,493.3 317.7,488.3 309.3,483.2" fill="#e6af2d"/>
<polygon points="342.9,501.7 346.2,498.3 347.0,508.4 343.7,510.1" fill="#f08228"/>
<polygon points="328.6,481.6 332.8,474.0 337.0,470.7 339.5,476.5 341.2,486.6 337.8,490.8 332.0,488.3" fill="#e6dc32"/>
<polygon points="356.3,488.3 361.3,489.9 365.5,500.0 368.8,503.3 368.8,511.7 362.1,508.4 359.6,500.0" fill="#e6dc32"/>
<g stroke="#656565" stroke-width="2.05" fill="none" stroke-linejoin="round" stroke-linecap="round" shape-rendering="auto">
<polyline points="244.0,459.8 245.7,463.1 250.7,471.5 256.6,479.1 260.8,486.6 265.8,488.3 272.5,486.6 280.0,490.8 285.1,494.1 282.5,499.2 278.3,501.7 282.5,504.2 292.6,502.5 301.0,498.7 306.8,502.5 311.0,508.4 315.2,515.9 316.9,521.8 311.9,529.3"/>
</g>
</g>
<g clip-path="url(#cE3)">
<rect x="368" y="438" width="128" height="97" fill="#ff5a00"/>
<polygon points="368.0,448.1 376.4,448.9 384.8,451.4 389.8,458.1 391.5,466.5 394.8,473.2 403.2,471.5 411.6,469.8 421.6,470.7 431.7,473.2 441.7,476.5 451.8,481.6 461.8,487.4 471.9,491.6 481.9,496.6 487.0,501.7 486.1,506.7 478.6,508.4 468.5,505.0 458.5,500.8 448.4,496.6 440.1,489.9 435.9,484.9 432.5,488.3 430.8,496.6 423.3,496.6 416.6,494.1 409.9,489.1 401.5,485.8 394.8,479.9 388.9,480.7 388.1,488.3 390.6,496.6 393.1,508.4 393.1,518.4 391.5,530.2 368.0,530.2" fill="#f08228"/>
<polygon points="368.0,479.1 374.7,483.2 379.7,488.3 382.2,498.3 383.1,510.1 381.4,521.8 379.7,530.2 368.0,530.2" fill="#e6af2d"/>
<polygon points="368.0,509.2 373.0,511.7 375.5,510.1 375.5,512.6 368.0,514.2" fill="#e6dc32"/>
<polygon points="373.0,438.0 379.7,443.9 393.1,450.6 406.5,457.3 419.9,463.1 433.3,467.3 443.4,470.7 451.8,475.7 461.8,483.2 471.9,488.3 483.6,494.1 492.8,497.5 492.8,438.0" fill="#ff0000"/>
<polygon points="379.7,438.0 389.8,443.0 403.2,449.7 416.6,457.3 428.3,461.5 440.1,466.5 448.4,471.5 456.8,477.4 465.2,483.2 475.2,488.3 485.3,492.5 492.8,495.8 492.8,438.0" fill="#c80000"/>
<polygon points="393.1,438.0 403.2,443.0 414.9,449.7 426.6,456.4 438.4,461.5 446.8,468.2 455.1,474.0 463.5,478.2 471.9,483.2 481.9,488.3 492.8,494.1 492.8,438.0" fill="#960000"/>
<polygon points="409.9,530.2 409.9,521.8 416.6,511.7 425.0,507.5 435.0,505.0 445.1,504.2 453.5,507.5 458.5,511.7 465.2,515.1 475.2,518.4 485.3,520.1 492.8,521.8 492.8,530.2" fill="#ff0000"/>
<polygon points="421.6,530.2 421.6,520.1 428.3,513.4 436.7,509.2 445.1,508.4 451.8,510.9 450.1,515.9 458.5,520.9 468.5,524.3 478.6,526.0 492.8,528.5 492.8,530.2" fill="#c80000"/>
<polygon points="425.0,530.2 426.6,523.5 435.0,516.8 441.7,514.2 448.4,515.1 451.8,520.1 461.8,525.1 468.5,528.5 471.9,530.2" fill="#960000"/>
<g stroke="#656565" stroke-width="2.05" fill="none" stroke-linejoin="round" stroke-linecap="round" shape-rendering="auto">
<polyline points="372.2,438.0 378.1,443.9 389.8,449.7 403.2,456.4 416.6,462.3 426.6,464.8 438.4,468.2 446.8,472.3 455.1,478.2 463.5,484.9 473.6,489.9 483.6,495.0 492.8,497.5"/>
<polyline points="423.3,529.3 428.3,520.1 435.0,513.4 441.7,510.1 448.4,510.9 455.1,511.7 450.9,515.1 451.8,518.4 460.2,522.6 468.5,526.0 478.6,526.8 492.8,529.3"/>
</g>
</g>
<g clip-path="url(#cE4)">
<rect x="492" y="438" width="128" height="97" fill="#960000"/>
<polygon points="574.1,438.0 574.1,454.8 568.2,459.8 566.6,469.8 562.4,481.6 563.2,491.6 565.7,501.7 572.4,508.4 577.5,516.8 579.1,525.1 580.8,530.2 619.3,530.2 619.3,438.0" fill="#c80000"/>
<polygon points="582.5,438.0 580.8,446.4 581.6,456.4 580.8,466.5 578.3,476.5 574.9,486.6 574.1,495.0 575.8,503.3 580.8,510.1 583.3,516.8 583.3,525.1 584.2,530.2 619.3,530.2 619.3,438.0" fill="#ff0000"/>
<polygon points="585.0,438.0 583.3,448.1 584.2,458.1 583.3,468.2 580.8,478.2 578.3,486.6 577.5,496.6 579.1,503.3 584.2,510.1 586.7,516.8 586.7,525.1 586.7,530.2 619.3,530.2 619.3,438.0" fill="#ff5a00"/>
<polygon points="586.7,438.0 585.8,448.1 588.3,454.8 586.7,463.1 585.8,471.5 582.5,479.9 580.8,488.3 580.0,496.6 582.5,503.3 586.7,508.4 589.2,515.1 590.9,521.8 589.2,530.2 619.3,530.2 619.3,438.0" fill="#f08228"/>
<polygon points="588.3,438.0 588.3,448.1 590.0,454.8 589.2,463.1 590.0,473.2 590.9,479.9 585.8,484.9 584.2,493.3 583.3,500.0 587.5,505.0 591.7,511.7 593.4,520.1 592.5,530.2 619.3,530.2 619.3,438.0" fill="#e6af2d"/>
<polygon points="590.0,438.0 590.9,448.1 592.5,458.1 592.5,471.5 593.4,481.6 589.2,488.3 587.5,496.6 588.3,503.3 593.4,510.1 596.7,518.4 595.9,530.2 619.3,530.2 619.3,438.0" fill="#e6dc32"/>
<polygon points="590.9,444.7 594.2,442.2 599.2,443.0 604.3,451.4 607.6,459.8 602.6,462.3 597.6,459.8 592.5,453.1" fill="#f5f064"/>
<polygon points="611.0,508.4 614.3,505.0 619.3,505.0 619.3,516.8 612.6,516.8" fill="#f5f064"/>
<polygon points="605.9,438.0 609.3,443.0 612.6,444.7 612.6,451.4 619.3,454.8 619.3,438.0" fill="#e6af2d"/>
<polygon points="492.0,495.8 498.7,498.3 501.2,506.7 508.8,511.7 515.5,516.8 522.2,523.5 525.5,530.2 492.0,530.2" fill="#c80000"/>
<polygon points="492.0,497.5 497.0,500.0 499.5,508.4 507.1,513.4 512.9,518.4 518.8,525.1 521.3,530.2 492.0,530.2" fill="#ff0000"/>
<polygon points="492.0,499.2 495.4,501.7 497.9,510.1 503.7,515.1 508.8,521.8 511.3,530.2 492.0,530.2" fill="#ff5a00"/>
<polygon points="547.3,525.1 550.6,520.9 557.3,523.5 562.4,527.6 564.1,530.2 548.1,530.2" fill="#8b008b"/>
<g stroke="#656565" stroke-width="2.05" fill="none" stroke-linejoin="round" stroke-linecap="round" shape-rendering="auto">
<polyline points="587.5,438.0 585.0,444.7 585.8,451.4 589.2,454.8 587.5,463.1 585.0,471.5 588.3,476.5 590.0,480.7 584.2,484.1 581.6,491.6 577.5,500.0 580.8,505.0 585.8,506.7 586.7,511.7 588.3,516.8 586.7,523.5 583.3,524.3 580.0,518.4 576.6,515.9 575.8,518.4 579.1,523.5 582.5,529.3"/>
<polyline points="492.0,496.6 498.7,500.8 500.4,506.7 508.8,513.4 515.5,518.4 523.8,528.5"/>
</g>
</g>
<g clip-path="url(#cP1)">
<rect x="190" y="100" width="104" height="78" fill="#e1f5a0"/>
<polygon points="190.0,100.0 213.6,100.0 210.3,105.4 198.1,108.1 190.0,110.8" fill="#a0e632"/>
<polygon points="241.4,100.0 246.8,106.1 257.6,112.2 260.9,117.6 260.3,133.8 257.6,141.9 270.0,144.5 283.0,146.5 290.7,148.4 290.7,100.0" fill="#a0e632"/>
<polygon points="252.2,100.0 263.0,100.0 264.3,105.4 260.3,107.4 254.9,105.4" fill="#00dc00"/>
<polygon points="190.0,130.4 199.5,128.4 202.2,122.3 214.3,120.3 223.8,120.9 230.5,120.3 238.6,121.6 246.8,125.0 252.2,131.1 253.5,139.2 257.6,144.6 265.7,147.3 276.5,148.0 284.6,147.3 290.7,149.3 290.7,178.4 190.0,178.4" fill="#f5f064"/>
<polygon points="190.0,132.4 198.1,131.8 202.2,126.4 208.9,123.6 217.0,123.0 225.1,125.7 230.5,123.0 237.3,123.6 242.7,127.0 246.8,132.4 244.1,135.1 238.6,136.5 234.6,140.5 233.2,147.3 234.6,156.8 240.0,164.9 248.1,170.3 257.6,170.9 265.7,166.2 269.7,159.5 272.4,154.1 279.2,151.4 290.7,152.7 290.7,178.4 190.0,178.4" fill="#e6dc32"/>
<polygon points="234.6,140.5 244.1,138.5 252.2,140.5 257.6,145.9 265.7,148.6 271.1,151.4 269.7,156.8 265.7,163.5 258.9,168.2 249.5,167.6 241.4,162.2 235.9,154.1 233.9,145.9" fill="#f5f064"/>
<polygon points="190.0,134.5 198.1,133.8 203.5,129.1 210.3,126.4 218.4,126.4 223.8,129.1 230.5,125.7 236.6,125.7 240.7,129.1 241.4,133.1 237.3,135.8 231.9,139.2 229.2,144.6 230.5,154.1 234.6,163.5 240.0,171.6 244.1,178.4 190.0,178.4" fill="#e6af2d"/>
<polygon points="265.7,178.4 268.4,170.3 271.1,160.8 273.8,155.4 279.2,153.4 290.7,154.1 290.7,178.4" fill="#e6af2d"/>
<polygon points="190.0,136.5 196.8,136.2 203.5,132.4 211.6,129.1 223.8,131.1 235.9,128.8 238.9,133.1 235.3,138.5 227.2,141.9 226.5,145.9 228.5,155.4 231.9,164.9 237.3,174.3 239.3,178.4 190.0,178.4" fill="#f08228"/>
<polygon points="267.7,178.4 269.7,170.3 272.4,160.8 275.1,156.1 280.5,154.7 290.7,155.7 290.7,178.4" fill="#f08228"/>
<polygon points="190.0,158.8 196.8,156.8 203.5,151.4 207.6,145.9 215.0,141.2 223.1,141.2 226.2,145.3 227.8,155.4 231.2,164.9 235.9,174.3 238.0,178.4 190.0,178.4" fill="#ff5a00"/>
<polygon points="269.7,178.4 271.8,170.3 274.5,162.2 277.8,157.4 284.6,157.4 290.7,159.5 290.7,178.4" fill="#ff5a00"/>
<polygon points="279.9,165.5 284.6,161.5 287.3,163.5 283.2,168.2" fill="#ff0000"/>
<g stroke="#656565" stroke-width="2.05" fill="none" stroke-linejoin="round" stroke-linecap="round" shape-rendering="auto">
<polyline points="227.2,100.0 224.5,105.4 229.2,108.1 233.2,106.8 230.5,116.2 231.9,120.3 237.3,122.3 245.4,125.7 251.5,132.4 249.5,135.8 244.1,136.2 243.4,133.8 238.6,136.5 233.9,139.9 226.5,142.6"/>
<polyline points="190.0,135.1 200.1,131.8 201.5,124.3 214.3,123.0 220.4,129.7 228.5,123.0 231.9,120.3"/>
<polyline points="226.5,142.6 229.2,152.7 232.6,164.9 237.3,174.3 239.3,178.4"/>
<polyline points="230.5,143.2 235.9,146.6 249.5,146.6 257.6,144.6 271.1,143.9 281.9,143.2 290.7,131.1"/>
<polyline points="265.7,178.4 271.1,163.5 276.5,154.1 284.6,155.4 290.7,158.1"/>
<polyline points="273.8,167.6 276.5,166.2 279.2,178.4"/>
<polyline points="273.8,167.6 275.1,175.7"/>
<polyline points="283.2,178.4 290.7,163.5"/>
</g>
</g>
<g clip-path="url(#cP2)">
<rect x="430" y="292" width="128" height="97" fill="#960000"/>
<polygon points="430.0,334.7 446.8,334.7 463.5,339.8 480.3,347.3 492.0,357.3 505.4,364.9 523.8,370.8 537.2,375.8 554.8,385.8 554.8,292.0 430.0,292.0" fill="#c80000"/>
<polygon points="430.0,302.1 438.4,307.1 446.8,315.5 449.3,325.5 453.5,331.4 463.5,335.9 480.3,342.3 493.7,351.5 505.4,360.7 523.8,367.4 537.2,372.4 554.8,382.5 554.8,292.0 430.0,292.0" fill="#ff0000"/>
<polygon points="430.0,298.7 440.1,304.6 450.1,312.1 458.5,320.5 463.5,328.0 470.2,333.9 480.3,338.9 492.0,345.6 497.0,352.3 507.1,358.2 523.8,364.9 538.9,370.8 554.8,379.1 554.8,292.0 430.0,292.0" fill="#ff5a00"/>
<polygon points="430.0,296.2 440.1,302.1 451.8,310.4 460.2,318.8 465.2,327.2 471.9,332.2 481.9,336.4 493.7,343.9 500.4,350.6 510.4,356.5 523.8,362.4 540.6,369.1 554.8,375.8 554.8,292.0 430.0,292.0" fill="#f08228"/>
<polygon points="435.9,292.0 445.1,299.5 453.5,307.9 461.8,315.5 455.1,305.4 452.6,297.0 450.9,292.0" fill="#e6af2d"/>
<polygon points="460.5,292.0 467.4,297.4 472.7,304.1 473.4,310.8 474.9,317.6 478.6,323.5 480.3,330.5 487.0,333.9 497.0,342.3 503.7,349.0 513.8,354.8 523.8,359.0 530.5,362.4 540.6,366.6 554.8,372.4 554.8,292.0" fill="#e6af2d"/>
<polygon points="470.2,292.0 474.1,296.5 480.8,294.5 487.5,293.2 493.0,295.9 493.7,301.4 490.3,308.1 486.1,313.4 483.5,320.3 482.1,328.0 488.6,332.2 498.7,340.6 505.4,347.3 515.5,353.2 523.8,356.5 528.9,359.0 537.2,362.4 545.6,365.7 554.8,369.9 554.8,292.0" fill="#e6dc32"/>
<polygon points="494.5,292.0 498.7,298.7 500.4,308.8 502.1,318.8 503.7,325.5 510.4,332.2 517.1,340.6 522.2,347.3 524.7,354.0 530.5,357.3 538.9,359.9 547.3,364.1 554.8,367.4 554.8,292.0" fill="#f5f064"/>
<polygon points="497.0,292.0 500.4,298.7 503.7,307.1 510.4,313.8 513.8,322.2 513.8,330.5 520.5,337.2 524.7,345.6 525.5,353.2 533.9,356.5 540.6,358.2 549.0,362.4 554.8,365.7 554.8,292.0" fill="#e1f5a0"/>
<polygon points="498.7,292.0 503.7,300.4 510.4,307.1 520.5,313.8 528.9,317.1 533.9,325.5 532.2,332.2 538.9,335.6 545.6,342.3 552.3,343.9 554.8,340.6 554.8,292.0" fill="#a0e632"/>
<polygon points="538.9,347.3 543.9,342.3 550.6,343.9 551.5,350.6 547.3,354.8 540.6,353.2" fill="#a0e632"/>
<polygon points="520.5,292.0 525.5,298.7 533.9,305.4 538.9,312.1 538.9,320.5 545.6,327.2 554.8,328.0 554.8,292.0" fill="#00dc00"/>
<g stroke="#656565" stroke-width="2.05" fill="none" stroke-linejoin="round" stroke-linecap="round" shape-rendering="auto">
<polyline points="450.1,292.0 455.1,298.7 455.1,303.7 463.5,312.1 473.6,319.6 478.6,325.5 477.8,331.4 472.7,333.1 466.0,331.4 458.5,325.5 448.4,317.1 436.7,303.7 430.0,297.9"/>
<polyline points="472.7,333.1 478.6,334.7 483.6,332.2 487.8,336.4 492.0,342.3 503.7,349.0 513.8,354.8 521.3,355.7 525.5,358.2"/>
<polyline points="525.5,358.2 532.2,354.0 533.0,350.6 528.0,343.9 525.5,338.9 526.3,330.5 530.5,324.7 537.2,322.2 538.9,312.1 543.9,305.4 550.6,301.2 554.8,300.4"/>
<polyline points="525.5,358.2 525.5,365.7 530.5,369.9 538.9,369.1 540.6,370.8 533.9,372.4 528.9,369.1"/>
<polyline points="530.5,369.9 543.9,375.8 554.8,383.3"/>
<polyline points="456.8,342.3 463.5,341.4 473.6,344.8 482.8,349.0 481.9,350.6 471.9,348.1 461.8,345.6 456.8,343.9 456.8,342.3"/>
<polyline points="430.0,328.0 438.4,326.3 450.1,328.0 463.5,333.9 476.9,340.6 492.0,347.3 502.1,353.2 513.8,360.7 523.8,365.7"/>
<polyline points="430.0,332.2 446.8,331.4"/>
<polyline points="430.0,318.5 444.2,318.5"/>
</g>
</g>
</g>
<g stroke="#7f7f7f" stroke-width="1" stroke-dasharray="2,4" fill="none" clip-path="url(#mapclip)">
<line x1="136.5" y1="51" x2="136.5" y2="530"/>
<line x1="196.5" y1="51" x2="196.5" y2="530"/>
<line x1="256.5" y1="51" x2="256.5" y2="530"/>
<line x1="317.5" y1="51" x2="317.5" y2="530"/>
<line x1="377.5" y1="51" x2="377.5" y2="530"/>
<line x1="437.5" y1="51" x2="437.5" y2="530"/>
<line x1="498.5" y1="51" x2="498.5" y2="530"/>
<line x1="558.5" y1="51" x2="558.5" y2="530"/>
<line x1="120" y1="106.5" x2="619" y2="106.5"/>
<line x1="120" y1="180.5" x2="619" y2="180.5"/>
<line x1="120" y1="254.5" x2="619" y2="254.5"/>
<line x1="120" y1="327.5" x2="619" y2="327.5"/>
<line x1="120" y1="401.5" x2="619" y2="401.5"/>
<line x1="120" y1="475.5" x2="619" y2="475.5"/>
</g>
<rect x="120" y="51" width="498.7" height="478.6" fill="none" stroke="#000" stroke-width="2.2"/>
<g font-family="'Liberation Sans', sans-serif">
<line x1="136.5" y1="530" x2="136.5" y2="535" stroke="#000" stroke-width="1.2"/>
<text x="128.5" y="544.3" font-size="10.2" textLength="16.2" lengthAdjust="spacingAndGlyphs" fill="#000" >12E</text>
<line x1="196.8" y1="530" x2="196.8" y2="535" stroke="#000" stroke-width="1.2"/>
<text x="188.8" y="544.3" font-size="10.2" textLength="16.2" lengthAdjust="spacingAndGlyphs" fill="#000" >13E</text>
<line x1="257.0" y1="530" x2="257.0" y2="535" stroke="#000" stroke-width="1.2"/>
<text x="249.0" y="544.3" font-size="10.2" textLength="16.2" lengthAdjust="spacingAndGlyphs" fill="#000" >14E</text>
<line x1="317.2" y1="530" x2="317.2" y2="535" stroke="#000" stroke-width="1.2"/>
<text x="309.2" y="544.3" font-size="10.2" textLength="16.2" lengthAdjust="spacingAndGlyphs" fill="#000" >15E</text>
<line x1="377.5" y1="530" x2="377.5" y2="535" stroke="#000" stroke-width="1.2"/>
<text x="369.5" y="544.3" font-size="10.2" textLength="16.2" lengthAdjust="spacingAndGlyphs" fill="#000" >16E</text>
<line x1="437.8" y1="530" x2="437.8" y2="535" stroke="#000" stroke-width="1.2"/>
<text x="429.8" y="544.3" font-size="10.2" textLength="16.2" lengthAdjust="spacingAndGlyphs" fill="#000" >17E</text>
<line x1="498.0" y1="530" x2="498.0" y2="535" stroke="#000" stroke-width="1.2"/>
<text x="490.0" y="544.3" font-size="10.2" textLength="16.2" lengthAdjust="spacingAndGlyphs" fill="#000" >18E</text>
<line x1="558.2" y1="530" x2="558.2" y2="535" stroke="#000" stroke-width="1.2"/>
<text x="550.2" y="544.3" font-size="10.2" textLength="16.2" lengthAdjust="spacingAndGlyphs" fill="#000" >19E</text>
<line x1="618.5" y1="530" x2="618.5" y2="535" stroke="#000" stroke-width="1.2"/>
<text x="610.5" y="544.3" font-size="10.2" textLength="16.2" lengthAdjust="spacingAndGlyphs" fill="#000" >20E</text>
<line x1="115.5" y1="475.7" x2="120" y2="475.7" stroke="#000" stroke-width="1.2"/>
<text x="95.5" y="479.5" font-size="10.2" textLength="18.0" lengthAdjust="spacingAndGlyphs" fill="#000" >41N</text>
<line x1="115.5" y1="401.8" x2="120" y2="401.8" stroke="#000" stroke-width="1.2"/>
<text x="95.5" y="405.6" font-size="10.2" textLength="18.0" lengthAdjust="spacingAndGlyphs" fill="#000" >42N</text>
<line x1="115.5" y1="327.9" x2="120" y2="327.9" stroke="#000" stroke-width="1.2"/>
<text x="95.5" y="331.7" font-size="10.2" textLength="18.0" lengthAdjust="spacingAndGlyphs" fill="#000" >43N</text>
<line x1="115.5" y1="254.0" x2="120" y2="254.0" stroke="#000" stroke-width="1.2"/>
<text x="95.5" y="257.8" font-size="10.2" textLength="18.0" lengthAdjust="spacingAndGlyphs" fill="#000" >44N</text>
<line x1="115.5" y1="180.2" x2="120" y2="180.2" stroke="#000" stroke-width="1.2"/>
<text x="95.5" y="184.0" font-size="10.2" textLength="18.0" lengthAdjust="spacingAndGlyphs" fill="#000" >45N</text>
<line x1="115.5" y1="106.3" x2="120" y2="106.3" stroke="#000" stroke-width="1.2"/>
<text x="95.5" y="110.1" font-size="10.2" textLength="18.0" lengthAdjust="spacingAndGlyphs" fill="#000" >46N</text>
<text x="171.4" y="39.4" font-size="14" textLength="96.7" lengthAdjust="spacingAndGlyphs" fill="#222" >Temperatura</text>
<text x="278.4" y="39.4" font-size="14" textLength="45.0" lengthAdjust="spacingAndGlyphs" fill="#222" >zraka</text>
<text x="331.3" y="39.4" font-size="14" textLength="19.4" lengthAdjust="spacingAndGlyphs" fill="#222" >na</text>
<text x="358.2" y="39.4" font-size="14" textLength="23.4" lengthAdjust="spacingAndGlyphs" fill="#222" >2m</text>
<text x="393.0" y="39.4" font-size="14" textLength="7.9" lengthAdjust="spacingAndGlyphs" fill="#222" >u</text>
<text x="410.1" y="39.4" font-size="14" textLength="21.8" lengthAdjust="spacingAndGlyphs" fill="#222" >06</text>
<text x="441.2" y="39.4" font-size="14" textLength="29.0" lengthAdjust="spacingAndGlyphs" fill="#222" >UTC</text>
<text x="480.1" y="39.4" font-size="14" textLength="91.1" lengthAdjust="spacingAndGlyphs" fill="#222" >18NOV2012</text>
</g>
<rect x="652" y="77.00" width="15" height="18.94" fill="#ffebd7" shape-rendering="crispEdges"/>
<rect x="652" y="95.64" width="15" height="18.94" fill="#d8bfd8" shape-rendering="crispEdges"/>
<rect x="652" y="114.28" width="15" height="18.94" fill="#dda0dd" shape-rendering="crispEdges"/>
<rect x="652" y="132.92" width="15" height="18.94" fill="#ba55d3" shape-rendering="crispEdges"/>
<rect x="652" y="151.56" width="15" height="18.94" fill="#8b008b" shape-rendering="crispEdges"/>
<rect x="652" y="170.20" width="15" height="18.94" fill="#960000" shape-rendering="crispEdges"/>
<rect x="652" y="188.84" width="15" height="18.94" fill="#c80000" shape-rendering="crispEdges"/>
<rect x="652" y="207.48" width="15" height="18.94" fill="#ff0000" shape-rendering="crispEdges"/>
<rect x="652" y="226.12" width="15" height="18.94" fill="#ff5a00" shape-rendering="crispEdges"/>
<rect x="652" y="244.76" width="15" height="18.94" fill="#f08228" shape-rendering="crispEdges"/>
<rect x="652" y="263.40" width="15" height="18.94" fill="#e6af2d" shape-rendering="crispEdges"/>
<rect x="652" y="282.04" width="15" height="18.94" fill="#e6dc32" shape-rendering="crispEdges"/>
<rect x="652" y="300.68" width="15" height="18.94" fill="#f5f064" shape-rendering="crispEdges"/>
<rect x="652" y="319.32" width="15" height="18.94" fill="#e1f5a0" shape-rendering="crispEdges"/>
<rect x="652" y="337.96" width="15" height="18.94" fill="#a0e632" shape-rendering="crispEdges"/>
<rect x="652" y="356.60" width="15" height="18.94" fill="#00dc00" shape-rendering="crispEdges"/>
<rect x="652" y="375.24" width="15" height="18.94" fill="#00aa00" shape-rendering="crispEdges"/>
<rect x="652" y="393.88" width="15" height="18.94" fill="#007800" shape-rendering="crispEdges"/>
<rect x="652" y="412.52" width="15" height="18.94" fill="#1e3cff" shape-rendering="crispEdges"/>
<rect x="652" y="431.16" width="15" height="18.94" fill="#00a0ff" shape-rendering="crispEdges"/>
<rect x="652" y="449.80" width="15" height="18.94" fill="#b0e0e6" shape-rendering="crispEdges"/>
<rect x="652" y="468.44" width="15" height="18.94" fill="#e6ffff" shape-rendering="crispEdges"/>
<g font-family="'Liberation Sans', sans-serif">
<text x="670.0" y="81.1" font-size="11.3" textLength="15.0" lengthAdjust="spacingAndGlyphs" fill="#000" >29</text>
<text x="670.0" y="99.7" font-size="11.3" textLength="15.0" lengthAdjust="spacingAndGlyphs" fill="#000" >27</text>
<text x="670.0" y="118.4" font-size="11.3" textLength="15.0" lengthAdjust="spacingAndGlyphs" fill="#000" >25</text>
<text x="670.0" y="137.0" font-size="11.3" textLength="15.0" lengthAdjust="spacingAndGlyphs" fill="#000" >23</text>
<text x="670.0" y="155.7" font-size="11.3" textLength="15.0" lengthAdjust="spacingAndGlyphs" fill="#000" >21</text>
<text x="670.0" y="174.3" font-size="11.3" textLength="15.0" lengthAdjust="spacingAndGlyphs" fill="#000" >19</text>
<text x="670.0" y="192.9" font-size="11.3" textLength="15.0" lengthAdjust="spacingAndGlyphs" fill="#000" >17</text>
<text x="670.0" y="211.6" font-size="11.3" textLength="15.0" lengthAdjust="spacingAndGlyphs" fill="#000" >15</text>
<text x="670.0" y="230.2" font-size="11.3" textLength="15.0" lengthAdjust="spacingAndGlyphs" fill="#000" >13</text>
<text x="670.0" y="248.9" font-size="11.3" textLength="15.0" lengthAdjust="spacingAndGlyphs" fill="#000" >11</text>
<text x="670.0" y="267.5" font-size="11.3" textLength="7.0" lengthAdjust="spacingAndGlyphs" fill="#000" >9</text>
<text x="670.0" y="286.1" font-size="11.3" textLength="7.0" lengthAdjust="spacingAndGlyphs" fill="#000" >7</text>
<text x="670.0" y="304.8" font-size="11.3" textLength="7.0" lengthAdjust="spacingAndGlyphs" fill="#000" >5</text>
<text x="670.0" y="323.4" font-size="11.3" textLength="7.0" lengthAdjust="spacingAndGlyphs" fill="#000" >3</text>
<text x="670.0" y="342.1" font-size="11.3" textLength="7.0" lengthAdjust="spacingAndGlyphs" fill="#000" >1</text>
<text x="670.5" y="360.7" font-size="11.3" textLength="16.5" lengthAdjust="spacingAndGlyphs" fill="#000" >−1</text>
<text x="670.5" y="379.3" font-size="11.3" textLength="16.5" lengthAdjust="spacingAndGlyphs" fill="#000" >−3</text>
<text x="670.5" y="398.0" font-size="11.3" textLength="16.5" lengthAdjust="spacingAndGlyphs" fill="#000" >−5</text>
<text x="670.5" y="416.6" font-size="11.3" textLength="16.5" lengthAdjust="spacingAndGlyphs" fill="#000" >−7</text>
<text x="670.5" y="435.3" font-size="11.3" textLength="16.5" lengthAdjust="spacingAndGlyphs" fill="#000" >−9</text>
<text x="670.5" y="453.9" font-size="11.3" textLength="24.5" lengthAdjust="spacingAndGlyphs" fill="#000" >−11</text>
<text x="670.5" y="472.5" font-size="11.3" textLength="24.5" lengthAdjust="spacingAndGlyphs" fill="#000" >−13</text>
<text x="670.5" y="491.2" font-size="11.3" textLength="24.5" lengthAdjust="spacingAndGlyphs" fill="#000" >−15</text>
<text x="670.5" y="509.8" font-size="11.3" textLength="24.5" lengthAdjust="spacingAndGlyphs" fill="#000" >−17</text>
<text x="664.6" y="528.3" font-size="8.6" textLength="16.6" lengthAdjust="spacingAndGlyphs" fill="#000" >(st.</text>
<text x="688.6" y="528.3" font-size="8.6" textLength="10.7" lengthAdjust="spacingAndGlyphs" fill="#000" >C)</text>
</g>
<rect x="516.8" y="51" width="102" height="41" fill="#fff" stroke="#000" stroke-width="1.3"/>
<text x="529.6" y="78.6" font-family="'Liberation Sans', sans-serif" font-size="19.5" fill="#1e3cff" stroke="#1e3cff" stroke-width="0.25">©</text>
<text x="547.8" y="78.6" font-family="'Liberation Sans', sans-serif" font-size="19.5" fill="#1e3cff" stroke="#1e3cff" stroke-width="0.25" textLength="57.2" lengthAdjust="spacing">DHMZ</text>
<rect x="120" y="466" width="136" height="64" fill="#fff" stroke="#000" stroke-width="1.3"/>
<g font-family="'Liberation Sans', sans-serif">
<text x="148.8" y="483.0" font-size="9.9" textLength="64.5" lengthAdjust="spacingAndGlyphs" fill="#000" >Temperatura</text>
<text x="220.3" y="483.0" font-size="9.9" textLength="28.3" lengthAdjust="spacingAndGlyphs" fill="#000" >zraka</text>
<text x="172.6" y="497.2" font-size="9.9" textLength="12.7" lengthAdjust="spacingAndGlyphs" fill="#000" >na</text>
<text x="190.9" y="497.2" font-size="9.9" textLength="15.2" lengthAdjust="spacingAndGlyphs" fill="#000" >2m</text>
<text x="214.0" y="497.2" font-size="9.9" textLength="16.7" lengthAdjust="spacingAndGlyphs" fill="#000" >(st.</text>
<text x="237.7" y="497.2" font-size="9.9" textLength="10.9" lengthAdjust="spacingAndGlyphs" fill="#000" >C)</text>
<text x="140.8" y="511.0" font-size="9.9" textLength="24.6" lengthAdjust="spacingAndGlyphs" fill="#000" >start</text>
<text x="171.5" y="511.0" font-size="9.9" textLength="77.1" lengthAdjust="spacingAndGlyphs" fill="#000" >00z18nov2012</text>
<text x="128.5" y="523.7" font-size="9.9" textLength="32.7" lengthAdjust="spacingAndGlyphs" fill="#000" >termin</text>
<text x="167.3" y="523.7" font-size="9.9" textLength="81.3" lengthAdjust="spacingAndGlyphs" fill="#000" >06Z18NOV2012</text>
</g>
</svg>
</body></html>
